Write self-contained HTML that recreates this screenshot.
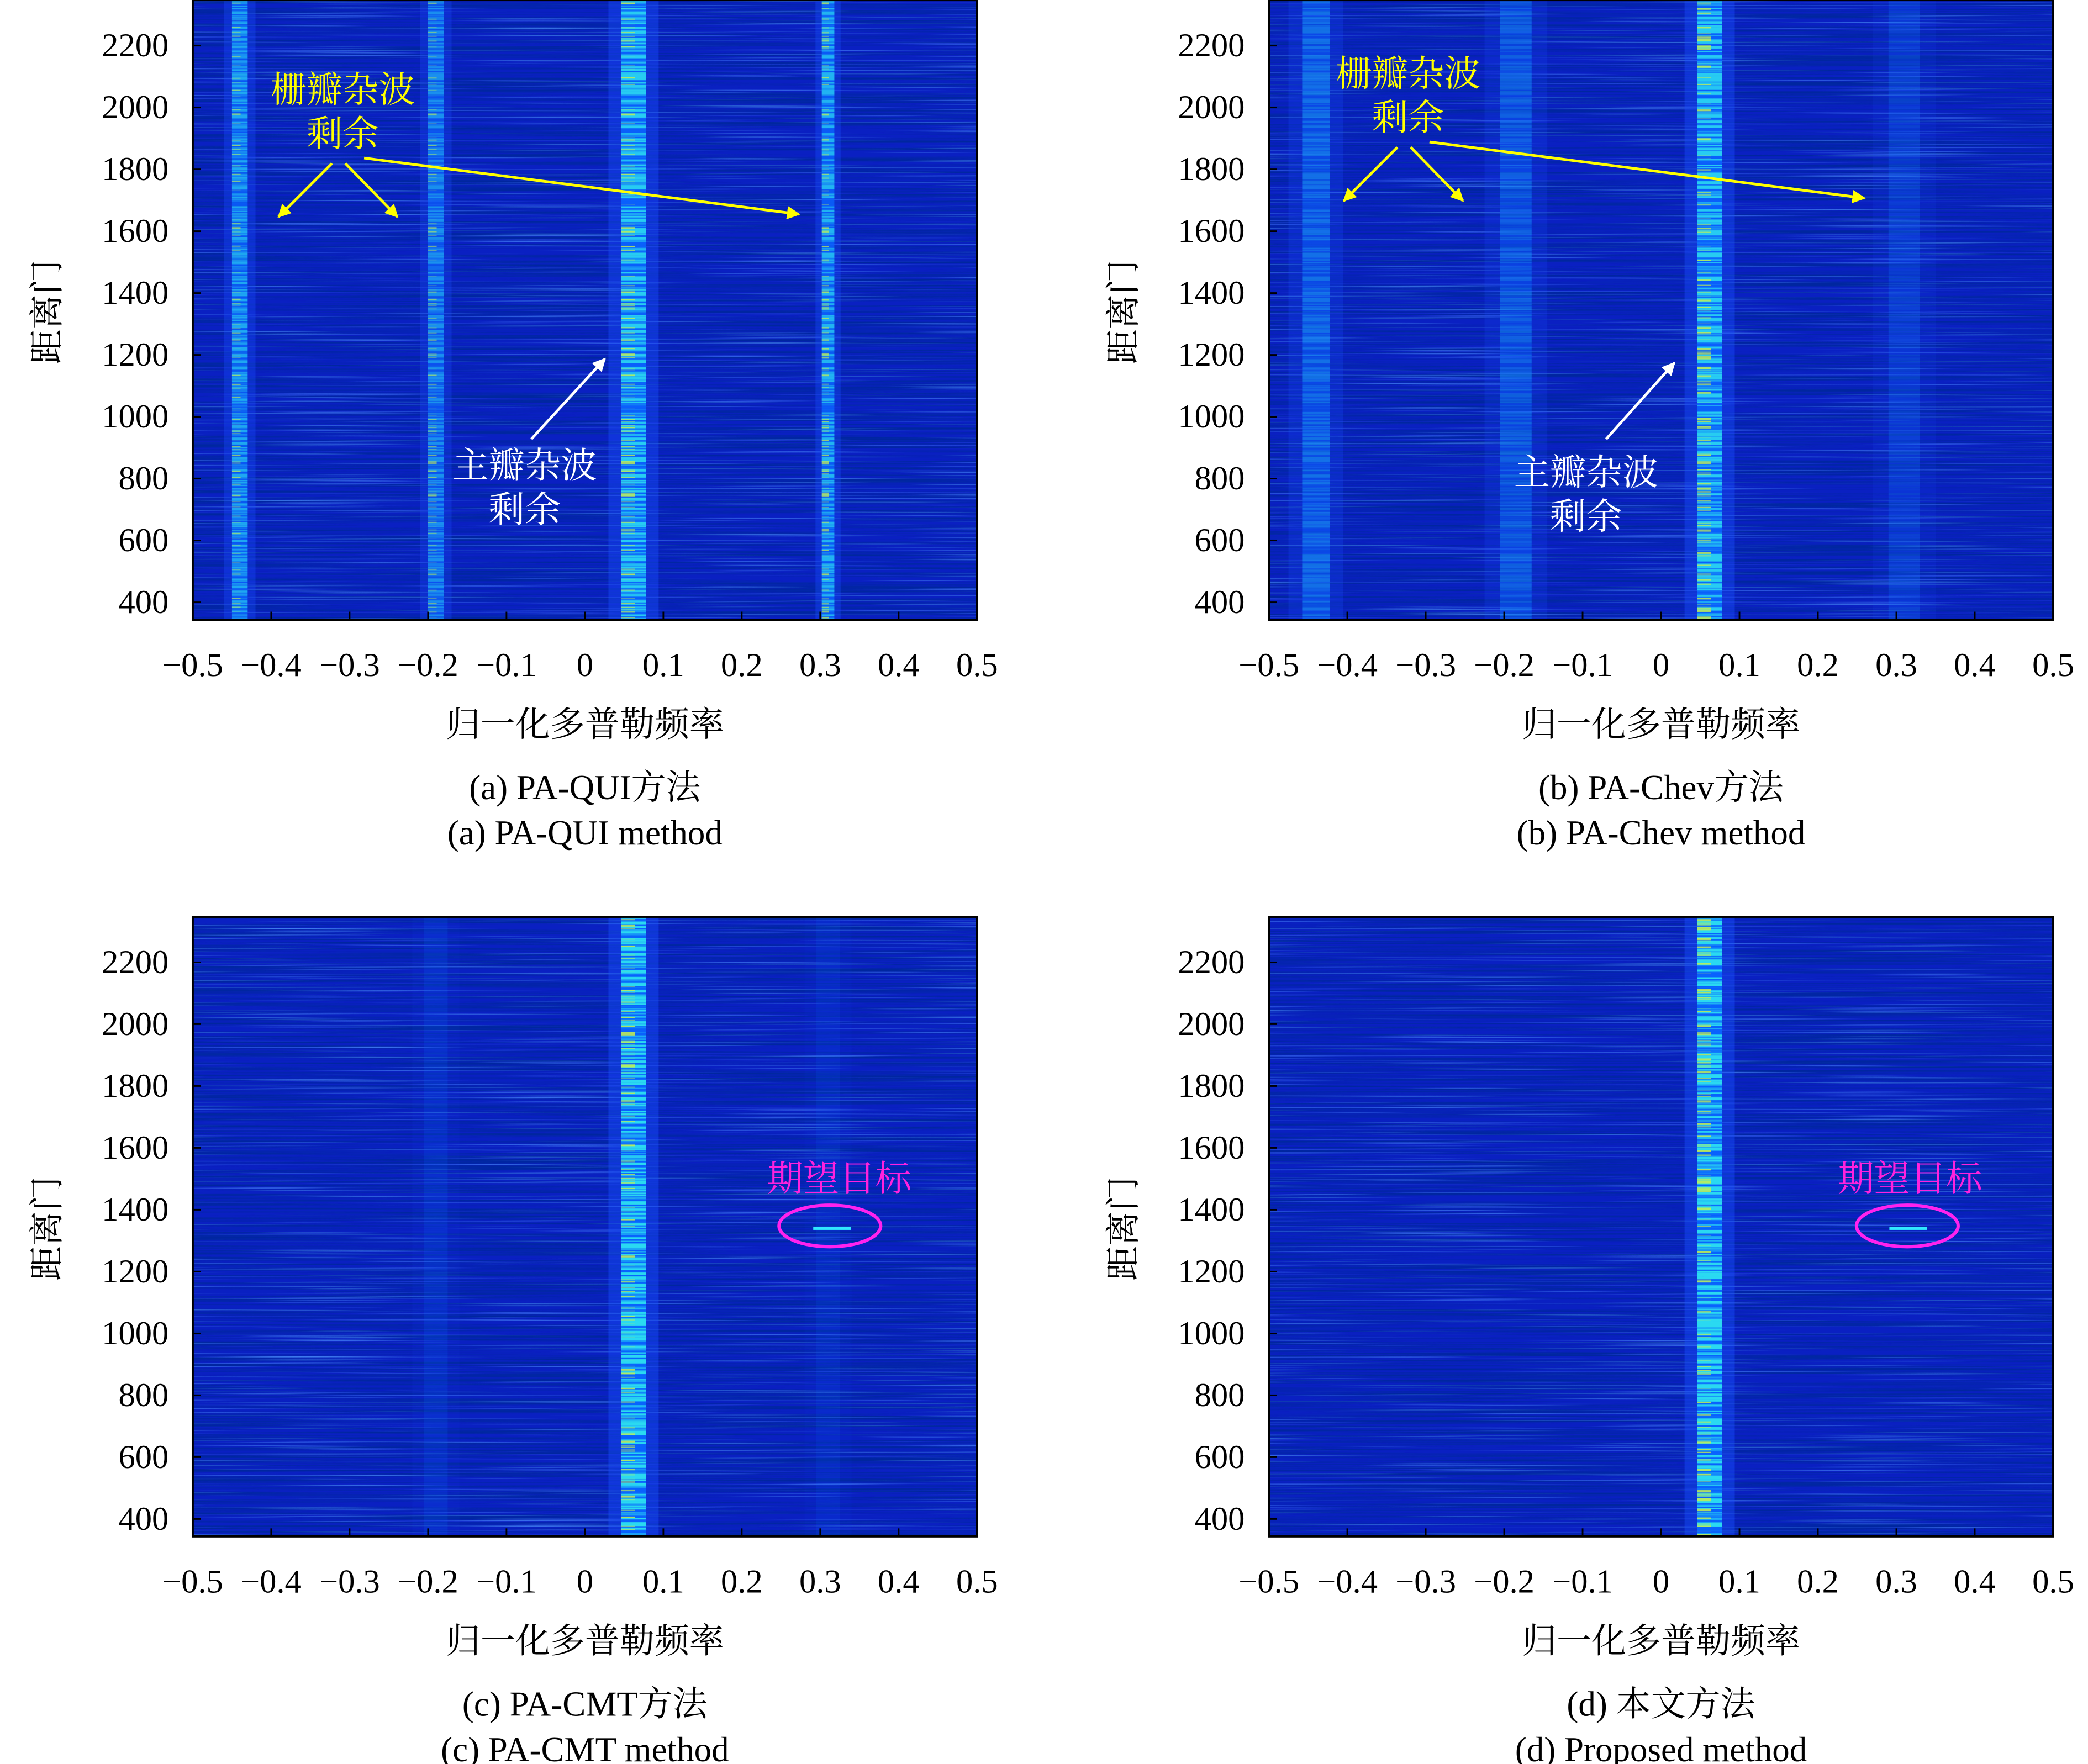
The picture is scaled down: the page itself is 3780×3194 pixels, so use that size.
<!DOCTYPE html>
<html><head><meta charset="utf-8">
<style>
html,body{margin:0;padding:0;background:#fff;}
svg{display:block;}
text{font-family:"Liberation Serif","Noto Serif CJK SC",serif;}
</style></head>
<body>
<svg id="fig" width="3780" height="3194" viewBox="0 0 1560 1318" xmlns="http://www.w3.org/2000/svg">
<defs>
  <filter id="bgNoise" x="0" y="0" width="100%" height="100%" filterUnits="objectBoundingBox">
    <feTurbulence type="fractalNoise" baseFrequency="0.004 0.7" numOctaves="2" seed="3" result="n"/>
    <feColorMatrix in="n" type="matrix" values="0 0 0 0 0  0 0 0 0 0.02  0 0 0 0 0.35  3 0 0 0 -1.2" result="dark"/>
    <feComposite in="dark" in2="SourceGraphic" operator="in"/>
  </filter>
  <filter id="bgLight" x="0" y="0" width="100%" height="100%" filterUnits="objectBoundingBox">
    <feTurbulence type="fractalNoise" baseFrequency="0.006 0.8" numOctaves="2" seed="11" result="n"/>
    <feColorMatrix in="n" type="matrix" values="0 0 0 0 0.08  0 0 0 0 0.3  0 0 0 0 1  3 0 0 0 -1.75" result="lt"/>
    <feComposite in="lt" in2="SourceGraphic" operator="in"/>
  </filter>
  <filter id="streakA" x="0" y="0" width="100%" height="100%" filterUnits="objectBoundingBox">
    <feTurbulence type="fractalNoise" baseFrequency="0.0005 0.55" numOctaves="2" seed="5" result="n"/>
    <feColorMatrix in="n" type="matrix" values="0 0 0 0 0  0 0 0 0 0  0 0 0 0 0  5 0 0 0 -1.9" result="m"/>
    <feComposite in="SourceGraphic" in2="m" operator="in"/>
  </filter>
  <filter id="streakB" x="0" y="0" width="100%" height="100%" filterUnits="objectBoundingBox">
    <feTurbulence type="fractalNoise" baseFrequency="0.0005 0.6" numOctaves="2" seed="17" result="n"/>
    <feColorMatrix in="n" type="matrix" values="0 0 0 0 0  0 0 0 0 0  0 0 0 0 0  8 0 0 0 -4.6" result="m"/>
    <feComposite in="SourceGraphic" in2="m" operator="in"/>
  </filter>
  <marker id="arrY" viewBox="0 0 10 10" refX="9" refY="5" markerWidth="5" markerHeight="5" orient="auto"><path d="M0,0 L10,5 L0,10 z" fill="#ffff00"/></marker>
  <marker id="arrW" viewBox="0 0 10 10" refX="9" refY="5" markerWidth="5" markerHeight="5" orient="auto"><path d="M0,0 L10,5 L0,10 z" fill="#ffffff"/></marker>
</defs>
<g id="root"></g>
</svg>
<script>
// ---- data ----
const xTicks = [-0.5,-0.4,-0.3,-0.2,-0.1,0,0.1,0.2,0.3,0.4,0.5];
const xTickLabels = ["\u22120.5","\u22120.4","\u22120.3","\u22120.2","\u22120.1","0","0.1","0.2","0.3","0.4","0.5"];
const yTicks = [400,600,800,1000,1200,1400,1600,1800,2000,2200];
const panelIds = ["a","b","c","d"];
const captionsCN = ["(a) PA-QUI方法","(b) PA-Chev方法","(c) PA-CMT方法","(d) 本文方法"];
const captionsEN = ["(a) PA-QUI method","(b) PA-Chev method","(c) PA-CMT method","(d) Proposed method"];
// clutter band frequencies, widths, intensities per panel
const bandFreqA = [-0.44,-0.19,0.062,0.31];
const bandWidthA = [0.02,0.02,0.032,0.016];
const bandLevelA = [0.75,0.65,0.9,0.8];
const bandFreqB = [-0.44,-0.185,0.062,0.31];
const bandWidthB = [0.035,0.04,0.032,0.04];
const bandLevelB = [0.5,0.42,0.9,0.25];
const bandFreqC = [-0.19,0.062,0.31];
const bandWidthC = [0.03,0.032,0.03];
const bandLevelC = [0.15,0.95,0.12];
const bandFreqD = [0.062];
const bandWidthD = [0.032];
const bandLevelD = [0.95];
const targetFreq = 0.315, targetRange = 1340;

const NS="http://www.w3.org/2000/svg";
const root=document.getElementById('root');
function mk(tag,attrs,parent){const e=document.createElementNS(NS,tag);for(const k in attrs)e.setAttribute(k,attrs[k]);(parent||root).appendChild(e);return e;}

const panels=[{x0:144,y0:0,f:bandFreqA,w:bandWidthA,l:bandLevelA},{x0:948,y0:0,f:bandFreqB,w:bandWidthB,l:bandLevelB},
{x0:144,y0:685,f:bandFreqC,w:bandWidthC,l:bandLevelC},{x0:948,y0:685,f:bandFreqD,w:bandWidthD,l:bandLevelD}];
const PW=586, PH=463;

panels.forEach((p,i)=>{
  const xs=v=>p.x0+(v+0.5)*PW;
  const ys=v=>p.y0+450-(v-400)*0.2311;
  const g=mk('g',{});
  
  
  const bg=mk('rect',{x:p.x0,y:p.y0,width:PW,height:PH,fill:'#0a20c2'},g);
  
  
  mk('rect',{x:p.x0,y:p.y0,width:PW,height:PH,fill:'#000',filter:'url(#bgNoise)'},g);
  mk('rect',{x:p.x0,y:p.y0,width:PW,height:PH,fill:'#000',filter:'url(#bgLight)',opacity:0.8},g);
  p.f.forEach((f,j)=>{
    const w=p.w[j]*PW, lv=p.l[j], cx=xs(f);
    const halo=mk('rect',{x:cx-w,y:p.y0,width:2*w,height:PH,fill:'#1a50ff',opacity:(lv*0.45).toFixed(2)},g);
    
    
    const b=mk('rect',{x:cx-w/2,y:p.y0,width:w,height:PH,fill:'#0a64ff',opacity:lv.toFixed(2)},g);
    
    
    const s=mk('rect',{x:cx-w/2,y:p.y0,width:w,height:PH,fill:'#2ee6f0',opacity:(lv*lv).toFixed(2),filter:'url(#streakA)'},g);
    
    
    if(lv>0.5){const y2=mk('rect',{x:cx-w/2,y:p.y0,width:w*0.55,height:PH,fill:'#c8f050',opacity:(lv*0.9).toFixed(2),filter:'url(#streakB)'},g);
      
      }
  });
  if(i>=2){const t=mk('rect',{x:xs(targetFreq)-14,y:ys(targetRange)-1,width:28,height:2.2,fill:'#30e8ff'},g);
    
    }
  const fr=mk('rect',{x:p.x0,y:p.y0,width:PW,height:PH,fill:'none',stroke:'#000','stroke-width':1.6},g);
  
  
  xTicks.forEach((v,k)=>{
    mk('line',{x1:xs(v),x2:xs(v),y1:p.y0+PH,y2:p.y0+PH-6,stroke:'#000','stroke-width':1.2},g);
    const t=mk('text',{x:xs(v),y:p.y0+505,'font-size':25,'text-anchor':'middle'},g);
    t.textContent=xTickLabels[k];
    
    
  });
  yTicks.forEach(v=>{
    mk('line',{x1:p.x0,x2:p.x0+6,y1:ys(v),y2:ys(v),stroke:'#000','stroke-width':1.2},g);
    const t=mk('text',{x:p.x0-18,y:ys(v)+8,'font-size':25,'text-anchor':'end'},g);
    t.textContent=v;
    
    
  });
  const xt=mk('text',{x:p.x0+PW/2,y:p.y0+550,'font-size':26,'text-anchor':'middle'},g);
  xt.textContent='归一化多普勒频率';
  
  
  const yt=mk('text',{x:0,y:0,'font-size':26,'text-anchor':'middle',transform:`translate(${p.x0-100},${p.y0+233}) rotate(-90)`},g);
  yt.textContent='距离门';
  
  
  const c1=mk('text',{x:p.x0+PW/2,y:p.y0+597,'font-size':26,'text-anchor':'middle'},g);
  c1.textContent=captionsCN[i];
  
  
  const c2=mk('text',{x:p.x0+PW/2,y:p.y0+631,'font-size':26,'text-anchor':'middle'},g);
  c2.textContent=captionsEN[i];
  
  
});

// annotations
function label(x,y,s,col,name){const t=mk('text',{x:x,y:y,'font-size':27,'text-anchor':'middle',fill:col});t.textContent=s;
  
  }
function arrow(x1,y1,x2,y2,m,col){const l=mk('line',{x1:x1,y1:y1,x2:x2,y2:y2,stroke:col,'stroke-width':2,'marker-end':'url(#'+m+')'});
  
  }
[[0,0],[796,-12]].forEach(([dx,dy],k)=>{
  label(256+dx,76+dy,'栅瓣杂波','#ffff00','grating-lobe-label');
  label(256+dx,109+dy,'剩余','#ffff00','grating-lobe-label');
  arrow(248+dx,122+dy,208+dx,162+dy,'arrY','#ffff00');
  arrow(258+dx,122+dy,297+dx,162+dy,'arrY','#ffff00');
  arrow(272+dx,118+dy,597+dx,160+dy,'arrY','#ffff00');
});
label(392,357,'主瓣杂波','#ffffff','mainlobe-label');label(392,390,'剩余','#ffffff','mainlobe-label');
arrow(397,328,452,268,'arrW','#ffffff');
label(1185,362,'主瓣杂波','#ffffff','mainlobe-label');label(1185,395,'剩余','#ffffff','mainlobe-label');
arrow(1200,328,1251,271,'arrW','#ffffff');
label(627,890,'期望目标','#ff22dd','target-label');
label(1427,890,'期望目标','#ff22dd','target-label');
[[620,916],[1425,916]].forEach(([cx,cy])=>{const e=mk('ellipse',{cx:cx,cy:cy,rx:38,ry:15.5,fill:'none',stroke:'#ff22ee','stroke-width':2.5});
  
  });
</script>
</body></html>
